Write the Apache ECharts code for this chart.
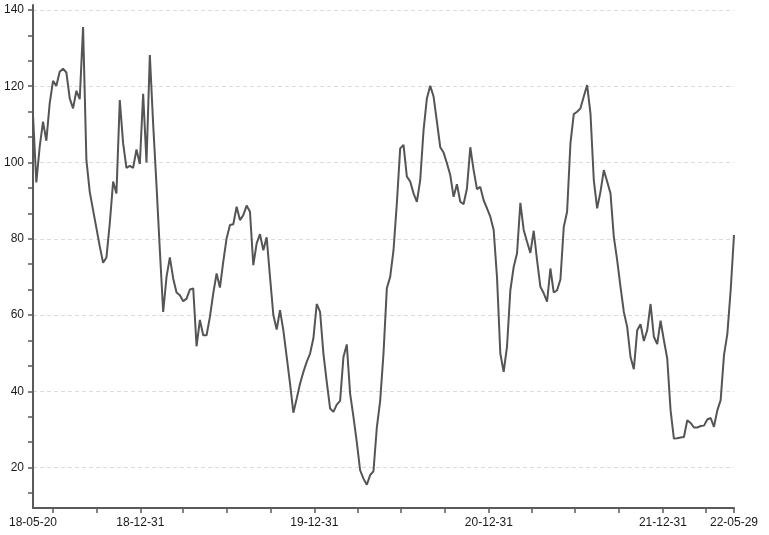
<!DOCTYPE html>
<html>
<head>
<meta charset="utf-8">
<script src="https://cdn.jsdelivr.net/npm/echarts@6/dist/echarts.min.js"></script>
<style>
  html, body { margin: 0; padding: 0; background: #fff; }
  #chart { width: 769px; height: 535px; }
</style>
</head>
<body>
<div id="chart"></div>
<script>
// Weekly series: first week and last week of the data
const startDate = '2018-05-20';
const endDate = '2022-05-29';

// Values, one per week
const values = [
  112.4, 94.8, 104.1, 110.7, 105.7, 115.5, 121.4, 120.1, 123.8, 124.6,
  123.6, 116.8, 114.2, 118.8, 116.6, 135.5, 100.6, 92.3, 87.5, 82.8,
  78.0, 73.7, 75.1, 84.0, 95.0, 91.9, 116.4, 105.0, 98.6, 99.1,
  98.6, 103.4, 99.6, 118.0, 100.0, 128.2, 110.0, 94.0, 77.0, 60.8,
  70.0, 75.1, 69.6, 65.9, 65.2, 63.6, 64.3, 66.7, 67.0, 51.8,
  58.7, 54.7, 54.7, 59.5, 65.7, 70.9, 67.2, 74.0, 80.1, 83.6,
  83.8, 88.4, 84.9, 86.2, 88.7, 87.1, 73.1, 78.8, 81.2, 77.0,
  80.4, 70.0, 60.0, 56.2, 61.3, 56.0, 49.0, 42.0, 34.4, 38.1,
  42.0, 45.1, 47.7, 49.9, 53.9, 62.9, 60.8, 49.9, 42.5, 35.5,
  34.6, 36.5, 37.5, 49.0, 52.3, 39.4, 33.3, 26.7, 19.3, 17.1,
  15.5, 18.0, 19.1, 30.5, 37.5, 49.9, 67.0, 70.0, 77.0, 89.3,
  103.7, 104.6, 96.3, 95.0, 91.9, 89.7, 95.4, 108.5, 116.8, 120.1,
  117.3, 110.7, 104.0, 102.6, 99.8, 96.7, 91.0, 94.3, 89.7, 89.1,
  93.2, 104.0, 98.0, 93.0, 93.6, 90.1, 88.0, 85.8, 82.3, 70.0,
  49.9, 45.1, 51.7, 66.5, 72.6, 76.2, 89.4, 82.3, 79.2, 76.3,
  82.1, 74.4, 67.4, 65.7, 63.5, 72.2, 65.9, 66.5, 69.3, 83.1,
  87.1, 105.0, 112.7, 113.3, 114.2, 117.3, 120.3, 112.9, 95.4, 88.0,
  92.3, 98.0, 95.0, 91.9, 80.5, 74.4, 67.4, 60.8, 56.9, 49.0,
  45.8, 56.0, 57.6, 53.2, 56.0, 62.9, 54.3, 52.4, 58.5, 53.4,
  48.6, 35.0, 27.6, 27.7, 27.9, 28.0, 32.4, 31.7, 30.5, 30.5,
  30.9, 31.0, 32.6, 33.0, 30.7, 35.0, 37.7, 49.5, 55.0, 66.5,
  81.0
];

// Axis tick labels
const xLabelDates = ['2018-05-20', '2018-12-31', '2019-12-31', '2020-12-31', '2021-12-31', '2022-05-29'];
const xTickDates = [
  '2018-06-30', '2018-09-30', '2018-12-31',
  '2019-03-31', '2019-06-30', '2019-09-30', '2019-12-31',
  '2020-03-31', '2020-06-30', '2020-09-30', '2020-12-31',
  '2021-03-31', '2021-06-30', '2021-09-30', '2021-12-31',
  '2022-03-31', '2022-05-29'
];
const yLabelValues = [20, 40, 60, 80, 100, 120, 140];
const yTickValues = [13.33, 20, 26.67, 33.33, 40, 46.67, 53.33, 60, 66.67, 73.33, 80, 86.67, 93.33,
  100, 106.67, 113.33, 120, 126.67, 133.33, 140];
const yMin = 9.4, yMax = 141.3;

function ts(s) { const p = s.split('-').map(Number); return Date.UTC(p[0], p[1] - 1, p[2]); }
const DAY = 86400000;
const start = ts(startDate);
const seriesData = values.map((v, i) => [start + i * 7 * DAY, v]);

function fmt(val) {
  const d = new Date(val);
  const pad = n => (n < 10 ? '0' : '') + n;
  return pad(d.getUTCFullYear() % 100) + '-' + pad(d.getUTCMonth() + 1) + '-' + pad(d.getUTCDate());
}

const axisColor = '#5a5a5a';
const labelStyle = { color: '#1a1a1a', fontFamily: 'Liberation Sans', fontSize: 12 };

const chart = echarts.init(document.getElementById('chart'), null, { renderer: 'canvas' });
chart.setOption({
  animation: false,
  grid: { left: 33, right: 35, top: 5, bottom: 27, containLabel: false, outerBoundsMode: 'none' },
  xAxis: {
    type: 'value',
    min: ts(startDate),
    max: ts(endDate),
    axisLine: { show: true, lineStyle: { color: axisColor, width: 2 } },
    axisTick: { show: true, length: 5, customValues: xTickDates.map(ts), lineStyle: { color: axisColor, width: 1.5 } },
    axisLabel: Object.assign({ customValues: xLabelDates.map(ts), formatter: fmt, margin: 9, hideOverlap: false }, labelStyle),
    splitLine: { show: false },
    minorTick: { show: false }
  },
  yAxis: [{
    type: 'value',
    min: yMin,
    max: yMax,
    axisLine: { show: true, lineStyle: { color: axisColor, width: 2 } },
    axisTick: { show: true, length: 5, customValues: yTickValues, lineStyle: { color: axisColor, width: 1.5 } },
    axisLabel: Object.assign({ customValues: yLabelValues, margin: 9 }, labelStyle),
    splitLine: { show: false }
  }, {
    type: 'value',
    min: yMin,
    max: yMax,
    minInterval: 20,
    maxInterval: 20,
    splitNumber: 6,
    axisLine: { show: false },
    axisTick: { show: false },
    axisLabel: { show: false },
    splitLine: { show: true, showMinLine: false, showMaxLine: false, lineStyle: { color: '#dcdcdc', type: [4, 3], width: 1 } }
  }],
  series: [{
    type: 'line',
    data: seriesData,
    showSymbol: false,
    symbol: 'none',
    lineStyle: { color: '#555555', width: 2 },
    z: 3
  }]
});
</script>
</body>
</html>
